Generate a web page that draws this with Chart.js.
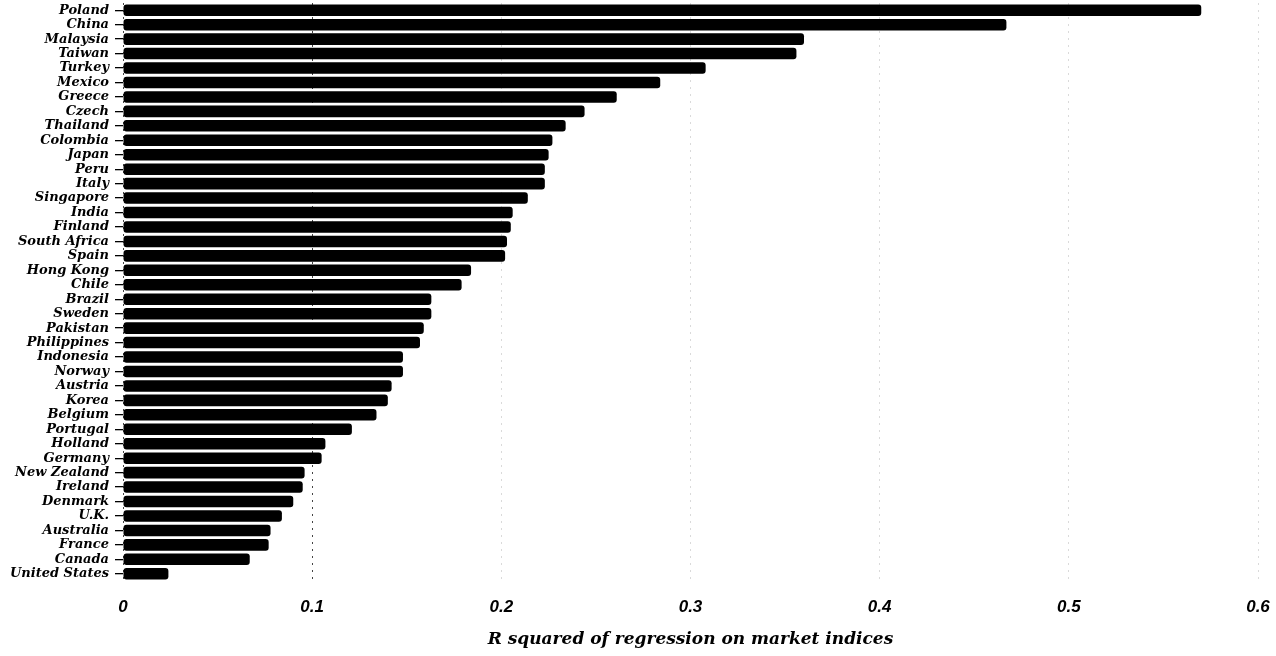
<!DOCTYPE html>
<html>
<head>
<meta charset="utf-8">
<title>R squared by country</title>
<style>
  html, body { margin: 0; padding: 0; background: #fff; }
  .wrap { width: 1276px; height: 656px; }
</style>
</head>
<body>
<div class="wrap">
  <canvas id="chart" width="1276" height="656"></canvas>
</div>
<script src="https://cdn.jsdelivr.net/npm/chart.js@4.4.1/dist/chart.umd.min.js"></script>
<script>
// countries, top to bottom
var countries = ['Poland', 'China', 'Malaysia', 'Taiwan', 'Turkey', 'Mexico', 'Greece', 'Czech',
  'Thailand', 'Colombia', 'Japan', 'Peru', 'Italy', 'Singapore', 'India', 'Finland',
  'South Africa', 'Spain', 'Hong Kong', 'Chile', 'Brazil', 'Sweden', 'Pakistan', 'Philippines',
  'Indonesia', 'Norway', 'Austria', 'Korea', 'Belgium', 'Portugal', 'Holland', 'Germany',
  'New Zealand', 'Ireland', 'Denmark', 'U.K.', 'Australia', 'France', 'Canada', 'United States'];

// R squared of regression on market indices
var rSquared = [0.570, 0.467, 0.360, 0.356, 0.308, 0.284, 0.261, 0.244,
  0.234, 0.227, 0.225, 0.223, 0.223, 0.214, 0.206, 0.205,
  0.203, 0.202, 0.184, 0.179, 0.163, 0.163, 0.159, 0.157,
  0.148, 0.148, 0.142, 0.140, 0.134, 0.121, 0.107, 0.105,
  0.096, 0.095, 0.090, 0.084, 0.078, 0.077, 0.067, 0.024];

var xTickLabels = ['0', '0.1', '0.2', '0.3', '0.4', '0.5', '0.6'];
var xTitle = 'R squared of regression on market indices';

var serif = "'DejaVu Serif', 'Liberation Serif', serif";

new Chart('chart', {
  type: 'bar',
  data: {
    labels: countries,
    datasets: [{
      data: rSquared,
      backgroundColor: '#000',
      borderRadius: 3,
      borderSkipped: false,
      barPercentage: 0.8,
      categoryPercentage: 1
    }]
  },
  options: {
    indexAxis: 'y',
    responsive: false,
    animation: false,
    layout: { padding: { top: 3, right: 18, bottom: 0, left: 0 } },
    plugins: {
      legend: { display: false },
      tooltip: { enabled: false }
    },
    scales: {
      x: {
        min: 0,
        max: 0.6,
        ticks: {
          stepSize: 0.1,
          padding: 16,
          color: '#000',
          font: { family: "'Liberation Sans Narrow', 'Liberation Sans', sans-serif", size: 17, weight: 'bold', style: 'italic' },
          callback: function(v, i) { return xTickLabels[i]; }
        },
        grid: {
          drawTicks: false,
          lineWidth: 1,
          color: function(ctx) { return ctx.index <= 1 ? '#444' : '#dadada'; },
          borderDash: [2, 5]
        },
        border: { display: false, dash: [2, 5] },
        title: {
          display: true,
          text: xTitle,
          color: '#000',
          padding: { top: 4, bottom: 6 },
          font: { family: serif, size: 17, weight: 'bold', style: 'italic' }
        },
        afterFit: function(scale) {
          scale.height = 75;
          scale.paddingRight = 0;
          scale.paddingLeft = 0;
        }
      },
      y: {
        ticks: {
          padding: 6,
          color: '#000',
          autoSkip: false,
          font: { family: serif, size: 13, weight: 'bold', style: 'italic' }
        },
        grid: {
          offset: false,
          drawOnChartArea: false,
          drawTicks: true,
          tickLength: 8,
          color: '#000',
          lineWidth: 1.3
        },
        border: { display: false },
        afterFit: function(scale) {
          scale.width = 123;
          scale.paddingTop = 0;
          scale.paddingBottom = 0;
        }
      }
    }
  }
});
</script>
</body>
</html>
